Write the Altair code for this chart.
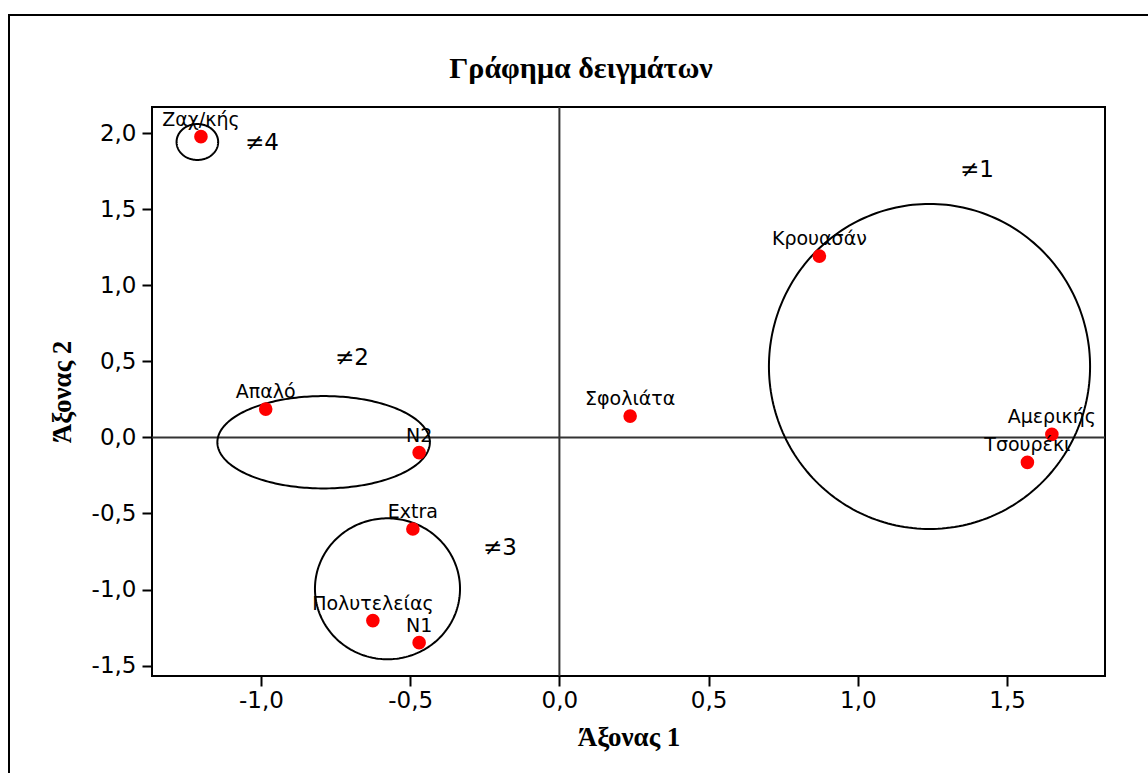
import altair as alt
import pandas as pd
import numpy as np

# Sample points (Άξονας 1, Άξονας 2)
names = ["Ζαχ/κής", "Απαλό", "N2", "Extra", "Πολυτελείας", "N1",
         "Σφολιάτα", "Κρουασάν", "Αμερικής", "Τσουρέκι"]
axis1 = [-1.201, -0.984, -0.470, -0.491, -0.625, -0.470, 0.237, 0.871, 1.650, 1.568]
axis2 = [1.976, 0.186, -0.100, -0.602, -1.204, -1.349, 0.140, 1.191, 0.020, -0.164]

# Group annotations
group_labels = ["≠1", "≠2", "≠3", "≠4"]
group_label_x = [1.399, -0.695, -0.199, -0.997]
group_label_y = [1.757, 0.522, -0.730, 1.934]

# Group outlines (centre and radii in data units)
group_cx = [1.240, -0.790, -0.576, -1.213]
group_cy = [0.466, -0.032, -0.995, 1.941]
group_rx = [0.538, 0.356, 0.243, 0.0697]
group_ry = [1.068, 0.3035, 0.463, 0.118]

x_ticks = [-1.0, -0.5, 0.0, 0.5, 1.0, 1.5]
y_ticks = [-1.5, -1.0, -0.5, 0.0, 0.5, 1.0, 1.5, 2.0]
x_domain = [-1.365, 1.828]
y_domain = [-1.568, 2.171]

chart_title = "Γράφημα δειγμάτων"

pts = pd.DataFrame({"name": names, "a1": axis1, "a2": axis2})
grp = pd.DataFrame({"label": group_labels, "a1": group_label_x, "a2": group_label_y})

theta = np.linspace(0, 2 * np.pi, 241)
rows = []
for g, cx, cy, rx, ry in zip(group_labels, group_cx, group_cy, group_rx, group_ry):
    for i, t in enumerate(theta):
        rows.append({"g": g, "i": i, "a1": cx + rx * np.cos(t), "a2": cy + ry * np.sin(t)})
ell = pd.DataFrame(rows)

label_expr = "replace(replace(format(datum.value, '.1f'), '.', ','), '\u2212', '-')"

xscale = alt.Scale(domain=x_domain, nice=False, zero=False)
yscale = alt.Scale(domain=y_domain, nice=False, zero=False)

xaxis = alt.Axis(values=x_ticks, labelExpr=label_expr, title="Άξονας 1",
                 labelFont="DejaVu Sans", labelFontSize=23, labelColor="black",
                 tickColor="black", tickWidth=2, tickSize=10, labelPadding=3,
                 titleFont="Liberation Serif", titleFontSize=27, titleFontWeight="bold",
                 titleColor="black", titlePadding=12, domain=False, grid=False)
yaxis = alt.Axis(values=y_ticks, labelExpr=label_expr, title="Άξονας 2",
                 labelFont="DejaVu Sans", labelFontSize=23, labelColor="black",
                 tickColor="black", tickWidth=2, tickSize=10, labelPadding=6,
                 titleFont="Liberation Serif", titleFontSize=27, titleFontWeight="bold",
                 titleColor="black", titlePadding=15, domain=False, grid=False)

base_x = alt.X("a1:Q", scale=xscale, axis=xaxis)
base_y = alt.Y("a2:Q", scale=yscale, axis=yaxis)

zero_v = alt.Chart(pd.DataFrame({"v": [0.0]})).mark_rule(color="#333333", strokeWidth=2).encode(
    x=alt.X("v:Q", scale=xscale, axis=xaxis))
zero_h = alt.Chart(pd.DataFrame({"v": [0.0]})).mark_rule(color="#333333", strokeWidth=2).encode(
    y=alt.Y("v:Q", scale=yscale, axis=yaxis))

ellipses = alt.Chart(ell).mark_line(color="black", strokeWidth=2).encode(
    x=base_x, y=base_y, detail="g:N", order="i:Q")

points = alt.Chart(pts).mark_circle(color="#ff0000", size=185, opacity=1).encode(
    x=base_x, y=base_y)

labels = alt.Chart(pts).mark_text(font="DejaVu Sans", fontSize=19, color="black",
                                  align="center", baseline="alphabetic", dy=-11).encode(
    x=base_x, y=base_y, text="name:N")

group_text = alt.Chart(grp).mark_text(font="DejaVu Sans", fontSize=23, color="black",
                                      align="center", baseline="middle").encode(
    x=base_x, y=base_y, text="label:N")

frame = alt.Chart(pd.DataFrame({"k": [0]})).mark_rect(
    fillOpacity=0, stroke="black", strokeWidth=2, clip=False).encode(
    x=alt.value(-143), x2=alt.value(1010), y=alt.value(-92), y2=alt.value(700))

title_text = alt.Chart(pd.DataFrame({"t": [chart_title]})).mark_text(
    font="Liberation Serif", fontSize=30, fontWeight="bold", color="black",
    align="center", baseline="alphabetic").encode(
    x=alt.value(429), y=alt.value(-29), text="t:N")

chart = alt.layer(frame, title_text, zero_v, zero_h, ellipses, points, labels, group_text).properties(
    width=953, height=569,
    padding={"left": 152, "top": 107, "right": 43, "bottom": 97},
    autosize="none",
    background="white",
).configure_view(stroke="black", strokeWidth=2)

chart.save("out.html", embed_options={"renderer": "svg", "actions": False})
